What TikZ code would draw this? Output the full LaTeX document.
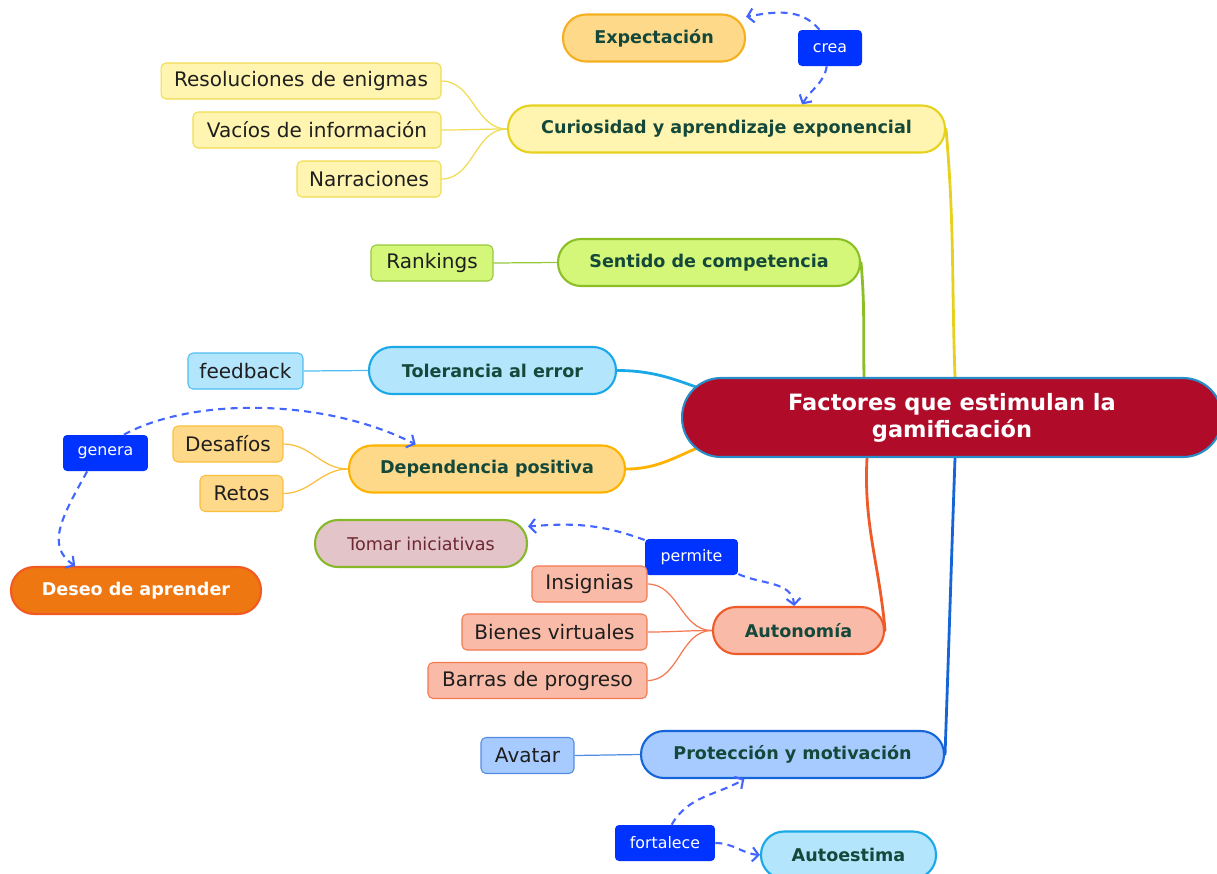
\documentclass[tikz,border=0pt]{standalone}
\usepackage{fontspec}
\setmainfont{DejaVu Sans}
\usepackage{xcolor}
\definecolor{CenFill}{RGB}{176,12,42}
\definecolor{CenDraw}{RGB}{40,140,200}
\definecolor{ExpFill}{RGB}{255,217,138}
\definecolor{ExpDraw}{RGB}{245,176,32}
\definecolor{CurFill}{RGB}{255,245,176}
\definecolor{CurDraw}{RGB}{230,210,30}
\definecolor{CurLeaf}{RGB}{240,220,80}
\definecolor{SenFill}{RGB}{212,247,122}
\definecolor{SenDraw}{RGB}{140,191,38}
\definecolor{SenLeaf}{RGB}{150,200,60}
\definecolor{TolFill}{RGB}{179,229,252}
\definecolor{TolDraw}{RGB}{26,168,230}
\definecolor{TolLeaf}{RGB}{80,190,240}
\definecolor{DepDraw}{RGB}{255,179,0}
\definecolor{DepLeaf}{RGB}{250,190,60}
\definecolor{AutFill}{RGB}{249,187,168}
\definecolor{AutDraw}{RGB}{240,90,40}
\definecolor{AutLeaf}{RGB}{245,120,80}
\definecolor{ProFill}{RGB}{168,203,255}
\definecolor{ProDraw}{RGB}{21,101,216}
\definecolor{ProLeaf}{RGB}{80,140,230}
\definecolor{TomFill}{RGB}{227,196,200}
\definecolor{TomDraw}{RGB}{134,184,42}
\definecolor{TomText}{RGB}{110,40,50}
\definecolor{DesFill}{RGB}{238,119,17}
\definecolor{DesDraw}{RGB}{240,90,34}
\definecolor{VerbFill}{RGB}{0,51,255}
\definecolor{RelCol}{RGB}{68,102,255}
\definecolor{TopicText}{RGB}{20,72,58}
\definecolor{LeafText}{RGB}{30,30,30}
\usepackage{tikz}
\usetikzlibrary{arrows.meta}
\usetikzlibrary{calc}
\usetikzlibrary{backgrounds}
\tikzstyle{Topic}=[rounded corners=0.46cm,draw,line width=1.2pt,minimum height=0.94cm,
font=\bfseries\fontsize{10}{12}\selectfont,text=TopicText]
\tikzstyle{Leaf}=[rounded corners=0.1cm,draw,line width=0.6pt,minimum height=0.72cm,
font=\fontsize{11.4}{13}\selectfont,text=LeafText]
\tikzstyle{Verb}=[rounded corners=0.08cm,fill=VerbFill,minimum height=0.72cm,text=white,
font=\fontsize{9}{11}\selectfont]
\tikzstyle{Branch}=[line width=1.6pt,line cap=round]
\tikzstyle{Twig}=[line width=0.7pt]
\tikzstyle{Rel}=[RelCol,dash pattern=on 4pt off 3pt,line width=1.2pt,
-{Straight Barb[length=3.5pt,width=8pt,line width=1.2pt]}]

\begin{document}
\begin{tikzpicture}[x=0.02cm,y=-0.02cm]
        \useasboundingbox(0,0)rectangle(1217,873);
        \node[Topic,fill=CenFill,draw=CenDraw,text=white,align=center,minimum width=10.8cm,
            minimum height=1.58cm,rounded corners=0.78cm,
            font=\bfseries\fontsize{12.8}{15.5}\selectfont](fac)at(952,417.5){Factores que estimulan la\\gamificación};
        \node[Topic,fill=ExpFill,draw=ExpDraw,minimum width=3.64cm](expec)at(654,38){Expectación};
        \node[Verb,minimum width=1.28cm](crea)at(830,48){crea};
        \node[Topic,fill=CurFill,draw=CurDraw,minimum width=8.74cm](cur)at(726.5,129){Curiosidad y aprendizaje exponencial};
        \node[Leaf,fill=CurFill,draw=CurLeaf,minimum width=5.6cm](enig)at(301,81){Resoluciones de enigmas};
        \node[Leaf,fill=CurFill,draw=CurLeaf,minimum width=4.96cm](vac)at(317,130){Vacíos de información};
        \node[Leaf,fill=CurFill,draw=CurLeaf,minimum width=2.88cm](narr)at(369,179){Narraciones};
        \node[Topic,fill=SenFill,draw=SenDraw,minimum width=6.04cm](sen)at(709,262.5){Sentido de competencia};
        \node[Leaf,fill=SenFill,draw=SenLeaf,minimum width=2.44cm](rank)at(432,263){Rankings};
        \node[Topic,fill=TolFill,draw=TolDraw,minimum width=4.94cm](tol)at(492.5,370.5){Tolerancia al error};
        \node[Leaf,fill=TolFill,draw=TolLeaf,minimum width=2.3cm](feed)at(245.5,371){feedback};
        \node[Topic,fill=ExpFill,draw=DepDraw,minimum width=5.52cm](dep)at(487,469){Dependencia positiva};
        \node[Leaf,fill=ExpFill,draw=DepLeaf,minimum width=2.2cm](desa)at(228,444){Desafíos};
        \node[Leaf,fill=ExpFill,draw=DepLeaf,minimum width=1.66cm](retos)at(241.5,493.5){Retos};
        \node[Verb,minimum width=1.7cm](gen)at(105.5,453){genera};
        \node[Topic,fill=DesFill,draw=DesDraw,text=white,minimum width=5cm](deseo)at(136,590.5){Deseo de aprender};
        \node[Topic,fill=TomFill,draw=TomDraw,text=TomText,font=\fontsize{10}{12}\selectfont,
            minimum width=4.24cm](tom)at(421,543.5){Tomar iniciativas};
        \node[Verb,minimum width=1.86cm](perm)at(691.5,557){permite};
        \node[Topic,fill=AutFill,draw=AutDraw,minimum width=3.42cm](aut)at(798.5,630.5){Autonomía};
        \node[Leaf,fill=AutFill,draw=AutLeaf,minimum width=2.3cm](insig)at(589.5,584){Insignias};
        \node[Leaf,fill=AutFill,draw=AutLeaf,minimum width=3.7cm](bien)at(554.5,632){Bienes virtuales};
        \node[Leaf,fill=AutFill,draw=AutLeaf,minimum width=4.38cm](barr)at(537.5,680.5){Barras de progreso};
        \node[Topic,fill=ProFill,draw=ProDraw,minimum width=6.06cm](pro)at(792.5,754.5){Protección y motivación};
        \node[Leaf,fill=ProFill,draw=ProLeaf,minimum width=1.86cm](avat)at(527.5,755.5){Avatar};
        \node[Verb,minimum width=2cm](fort)at(665,843){fortalece};
        \node[Topic,fill=TolFill,draw=TolDraw,minimum width=3.5cm](aest)at(848.5,855){Autoestima};
        \begin{scope}[on background layer]
        \draw[Branch,CurDraw](cur.east)to[out=-85,in=92]($(fac.north)+(3,0)$);
        \draw[Branch,SenDraw](sen.east)to[out=-85,in=91]($(fac.north)+(-88,0)$);
        \draw[Branch,TolDraw](tol.east)to[out=0,in=160]($(fac.west)+(30,-25)$);
        \draw[Branch,DepDraw](dep.east)to[out=0,in=200]($(fac.west)+(30,25)$);
        \draw[Branch,AutDraw](aut.east)to[out=95,in=-93]($(fac.south)+(-85,0)$);
        \draw[Branch,ProDraw](pro.east)to[out=88,in=-92]($(fac.south)+(3,0)$);
        \draw[Twig,CurLeaf](cur.west)to[out=180,in=0](enig.east);
        \draw[Twig,CurLeaf](cur.west)to[out=180,in=0](vac.east);
        \draw[Twig,CurLeaf](cur.west)to[out=180,in=0](narr.east);
        \draw[Twig,SenLeaf](sen.west)--(rank.east);
        \draw[Twig,TolLeaf](tol.west)--(feed.east);
        \draw[Twig,DepLeaf](dep.west)to[out=180,in=0](desa.east);
        \draw[Twig,DepLeaf](dep.west)to[out=180,in=0](retos.east);
        \draw[Twig,AutLeaf](aut.west)to[out=180,in=0](insig.east);
        \draw[Twig,AutLeaf](aut.west)to[out=180,in=0](bien.east);
        \draw[Twig,AutLeaf](aut.west)to[out=180,in=0](barr.east);
        \draw[Twig,ProLeaf](pro.west)--(avat.east);
        \end{scope}
        \draw[Rel](crea.120)to[out=130,in=10](expec.13);
        \draw[Rel](crea.-100)to[out=-100,in=60](cur.18);
        \draw[Rel](gen.45)..controls +(70,-38) and +(-90,-46)..(dep.161);
        \draw[Rel](gen.-135)..controls +(-25,45) and +(-30,-20)..(deseo.158);
        \draw[Rel](perm.160)to[out=160,in=5](tom.9);
        \draw[Rel](perm.-20)to[out=-25,in=95](aut.100);
        \draw[Rel](fort.70)to[out=60,in=-150](pro.207);
        \draw[Rel](fort.east)to[out=0,in=175](aest.west);
    \end{tikzpicture}
\end{document}
